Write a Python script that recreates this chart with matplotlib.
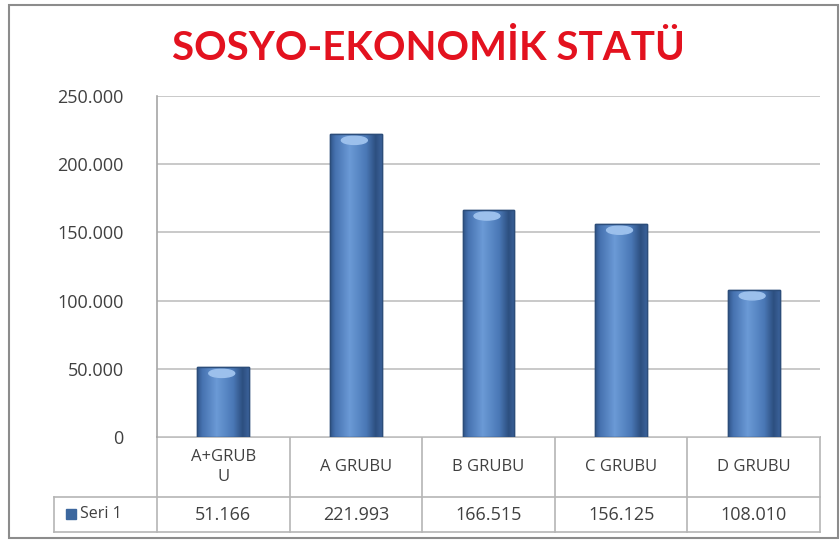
import numpy as np
import matplotlib.pyplot as plt
from matplotlib.patches import Rectangle, Ellipse
from matplotlib.colors import LinearSegmentedColormap

categories = ['A+GRUB\nU', 'A GRUBU', 'B GRUBU', 'C GRUBU', 'D GRUBU']
values = [51166, 221993, 166515, 156125, 108010]
series_name = 'Seri 1'
yticks = [0, 50000, 100000, 150000, 200000, 250000]
title = 'SOSYO-EKONOMİK STATÜ'

plt.rcParams['font.family'] = ['Open Sans', 'DejaVu Sans']
W, H = 840, 542
fig = plt.figure(figsize=(W / 100, H / 100), dpi=100)

def fx(px):
    return px / W

def fy(py):
    return 1 - py / H

# overlay in pixel coords for frame and table
ov = fig.add_axes([0, 0, 1, 1])
ov.set_xlim(0, W)
ov.set_ylim(H, 0)
ov.axis('off')
ov.add_patch(Rectangle((9, 5), 829, 533, fill=False, ec='#8c8c8c', lw=1.5))

left, right, top, zero = 157, 820, 96, 437
ax = fig.add_axes([fx(left), fy(zero), fx(right - left), (zero - top) / H])
x = np.arange(len(values))
ax.set_yticks(yticks)
ax.set_yticklabels([f'{v:,}'.replace(',', '.') for v in yticks])
ax.tick_params(axis='y', length=0, pad=24, labelsize=13, labelcolor='#404040')
ax.tick_params(axis='x', length=0, labelbottom=False)
ax.grid(axis='y', color='#c0c0c0', lw=1.2)
ax.set_axisbelow(True)
for s in ['top', 'right', 'bottom']:
    ax.spines[s].set_visible(False)
ax.spines['left'].set_color('#a6a6a6')
ax.spines['left'].set_linewidth(1.2)

# cylinder-like shading for the bars
shade = LinearSegmentedColormap.from_list('bar', [
    (0.0, '#2f5488'), (0.1, '#4672b0'), (0.38, '#6b9ad6'),
    (0.7, '#4a78b6'), (0.88, '#2d4f80'), (1.0, '#3b629a')])
grad = np.linspace(0, 1, 256).reshape(1, -1)
bw = 0.39
bars = ax.bar(x, values, width=bw, color='#4672b0', edgecolor='#2c4d7a', lw=1, zorder=3)
for b in bars:
    im = ax.imshow(grad, cmap=shade, aspect='auto', zorder=3.5,
                   extent=[b.get_x(), b.get_x() + b.get_width(), 0, b.get_height()])
    im.set_clip_path(b)
    ax.add_patch(Ellipse((b.get_x() + b.get_width() * 0.47, b.get_height() - 4500),
                         b.get_width() * 0.5, 6000, color='#9cc0ec', zorder=4))
    ax.add_patch(Rectangle((b.get_x(), 0), b.get_width(), b.get_height(), fill=False,
                           ec='#2c4d7a', lw=1, zorder=4))
ax.set_xlim(-0.5, len(values) - 0.5)
ax.set_ylim(0, 250000)

ov.text(428, 48, title, ha='center', va='center', fontsize=29, fontweight='bold',
        color='#e3121f', family=['Lato', 'DejaVu Sans'])

# data table under the axis
row1, row2, row3 = 437, 497, 532
colw = (right - left) / len(values)
lc = '#b5b5b5'
ov.plot([left, right], [row1, row1], color=lc, lw=1.2)
ov.plot([54, right], [row2, row2], color=lc, lw=1.2)
ov.plot([54, right], [row3, row3], color=lc, lw=1.2)
ov.plot([54, 54], [row2, row3], color=lc, lw=1.2)
for i in range(len(values) + 1):
    ov.plot([left + i * colw] * 2, [row1, row3], color=lc, lw=1.2)
for i, (c, v) in enumerate(zip(categories, values)):
    cx = left + (i + 0.5) * colw
    ov.text(cx, (row1 + row2) / 2, c, ha='center', va='center', fontsize=12,
            color='#404040', linespacing=1.3)
    ov.text(cx, (row2 + row3) / 2, f'{v:,}'.replace(',', '.'), ha='center', va='center',
            fontsize=13, color='#404040')
ov.add_patch(Rectangle((66, 509), 10, 10, color='#3c679e'))
ov.text(80, (row2 + row3) / 2, series_name, ha='left', va='center', fontsize=11.5, color='#404040')

fig.savefig('out.png', dpi=100)
